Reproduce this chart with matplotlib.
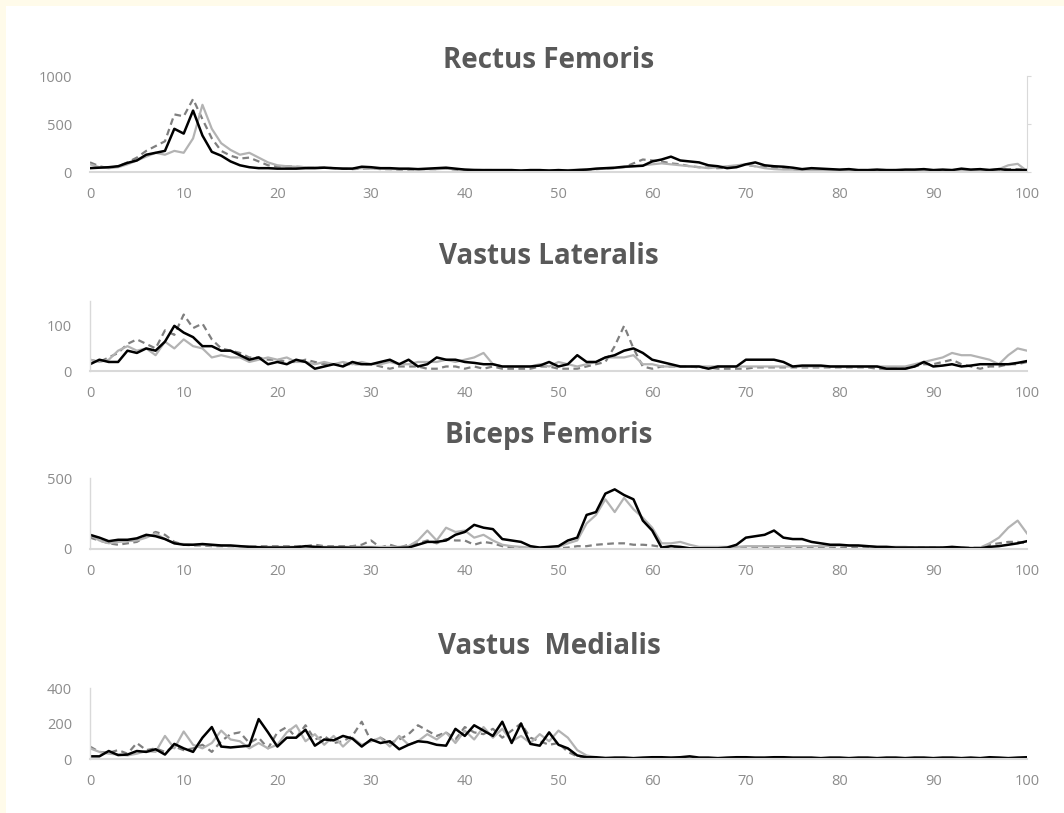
import numpy as np
import matplotlib
matplotlib.use("Agg")
import matplotlib.pyplot as plt
from matplotlib.patches import Rectangle

plt.rcParams['font.family'] = ['Open Sans', 'DejaVu Sans']

# percent of cycle
x = np.arange(0, 101)

# ---- Rectus Femoris ----
rf_black = [40, 45, 50, 60, 95, 120, 180, 200, 220, 450, 400, 640, 380, 210, 170, 110, 70, 50, 40, 40,
            35, 35, 35, 40, 40, 45, 40, 35, 35, 55, 50, 40, 40, 35, 35, 30, 35, 40, 45, 35,
            25, 20, 20, 20, 20, 20, 15, 20, 20, 15, 20, 15, 20, 25, 35, 40, 45, 55, 60, 65,
            110, 130, 160, 120, 110, 100, 70, 60, 40, 50, 80, 100, 70, 60, 55, 45, 30, 40, 35, 30,
            25, 30, 20, 20, 25, 20, 20, 25, 25, 30, 20, 25, 20, 35, 25, 30, 20, 30, 20, 20, 20]
rf_dash = [100, 60, 40, 60, 100, 150, 220, 270, 320, 600, 580, 760, 550, 350, 220, 170, 140, 150, 110, 70,
           60, 60, 55, 50, 50, 45, 40, 35, 30, 35, 40, 30, 30, 25, 25, 30, 30, 30, 35, 25,
           20, 20, 20, 20, 15, 15, 15, 15, 15, 15, 15, 15, 20, 25, 30, 35, 40, 50, 90, 130,
           120, 110, 90, 80, 60, 50, 45, 40, 45, 70, 75, 60, 50, 40, 35, 30, 25, 25, 20, 20,
           20, 20, 20, 20, 20, 20, 20, 20, 20, 20, 20, 20, 20, 20, 20, 20, 20, 25, 30, 30, 25]
rf_light = [80, 50, 40, 50, 80, 120, 160, 200, 180, 220, 200, 350, 700, 450, 300, 230, 180, 200, 150, 100,
            70, 60, 55, 50, 50, 45, 40, 40, 35, 40, 35, 35, 30, 30, 30, 30, 30, 30, 35, 30,
            25, 25, 20, 20, 20, 20, 20, 20, 20, 20, 20, 20, 25, 30, 30, 35, 40, 50, 60, 70,
            80, 90, 80, 70, 60, 50, 40, 50, 60, 70, 80, 60, 40, 30, 25, 25, 20, 20, 20, 20,
            20, 20, 20, 20, 20, 20, 20, 20, 20, 20, 20, 20, 20, 20, 20, 20, 25, 30, 70, 85, 10]

# ---- Vastus Lateralis ----
vl_black = [15, 25, 20, 20, 45, 40, 50, 45, 65, 100, 85, 75, 55, 55, 45, 45, 35, 25, 30, 15,
            20, 15, 25, 20, 5, 10, 15, 10, 20, 15, 15, 20, 25, 15, 25, 10, 15, 30, 25, 25,
            20, 18, 15, 15, 10, 10, 10, 10, 12, 20, 10, 15, 35, 20, 20, 30, 35, 45, 50, 40,
            25, 20, 15, 10, 10, 10, 5, 10, 10, 10, 25, 25, 25, 25, 20, 10, 12, 12, 12, 10,
            10, 10, 10, 10, 10, 5, 5, 5, 10, 20, 10, 12, 15, 10, 12, 15, 15, 15, 15, 18, 22]
vl_dash = [25, 20, 30, 40, 60, 70, 60, 50, 90, 80, 125, 95, 105, 70, 50, 45, 40, 30, 30, 25,
           25, 20, 20, 25, 20, 15, 15, 15, 15, 15, 15, 10, 5, 10, 10, 10, 5, 5, 10, 10,
           5, 10, 5, 10, 5, 5, 5, 5, 10, 10, 5, 5, 5, 10, 15, 20, 55, 100, 50, 10,
           5, 10, 10, 10, 10, 8, 8, 5, 5, 5, 5, 8, 8, 8, 8, 8, 8, 8, 8, 8,
           8, 8, 8, 8, 5, 5, 5, 5, 10, 15, 15, 20, 25, 15, 10, 5, 10, 10, 15, 15, 20]
vl_light = [25, 20, 25, 45, 55, 45, 50, 35, 65, 50, 70, 55, 50, 30, 35, 30, 30, 20, 25, 30,
            25, 30, 20, 20, 15, 20, 15, 20, 15, 20, 15, 15, 20, 15, 15, 20, 20, 20, 25, 20,
            25, 30, 40, 15, 10, 10, 10, 10, 15, 10, 20, 15, 10, 15, 20, 30, 30, 30, 35, 15,
            15, 10, 10, 10, 10, 10, 10, 10, 10, 10, 10, 10, 10, 10, 10, 10, 10, 10, 10, 10,
            10, 10, 10, 10, 10, 10, 10, 10, 15, 20, 25, 30, 40, 35, 35, 30, 25, 15, 35, 50, 45]

# ---- Biceps Femoris ----
bf_black = [100, 80, 55, 65, 65, 75, 100, 90, 70, 40, 30, 30, 35, 30, 25, 25, 20, 15, 12, 10,
            10, 10, 12, 20, 15, 10, 10, 10, 8, 8, 8, 5, 5, 8, 10, 30, 50, 50, 60, 100,
            120, 170, 150, 140, 70, 60, 50, 20, 10, 15, 20, 60, 80, 240, 260, 390, 420, 380, 350, 200,
            130, 10, 20, 15, 5, 5, 5, 5, 10, 30, 80, 90, 100, 130, 80, 70, 70, 50, 40, 30,
            30, 25, 25, 20, 15, 15, 10, 10, 10, 10, 10, 10, 15, 10, 5, 5, 15, 20, 30, 40, 55]
bf_dash = [80, 60, 40, 30, 40, 50, 90, 120, 100, 50, 30, 25, 25, 20, 20, 20, 20, 20, 20, 20,
           20, 20, 20, 20, 30, 20, 20, 20, 20, 30, 60, 10, 30, 10, 30, 40, 60, 40, 70, 60,
           60, 30, 50, 40, 20, 10, 10, 10, 10, 5, 5, 10, 20, 20, 30, 35, 40, 40, 30, 30,
           25, 15, 10, 5, 5, 5, 5, 5, 5, 5, 5, 5, 8, 8, 8, 10, 10, 10, 10, 10,
           10, 10, 10, 10, 10, 10, 10, 10, 10, 10, 10, 10, 10, 10, 10, 10, 30, 40, 50, 50, 40]
bf_light = [100, 60, 40, 50, 55, 60, 80, 110, 70, 40, 35, 30, 30, 25, 25, 20, 20, 20, 15, 15,
            15, 15, 15, 15, 15, 15, 15, 15, 15, 15, 15, 15, 15, 15, 20, 60, 130, 60, 150, 120,
            130, 80, 100, 60, 30, 20, 15, 10, 10, 10, 15, 40, 60, 180, 240, 350, 260, 360, 280, 220,
            150, 40, 40, 50, 30, 15, 15, 15, 15, 15, 20, 20, 20, 20, 20, 20, 20, 20, 20, 20,
            25, 25, 20, 20, 15, 15, 15, 15, 10, 10, 10, 10, 10, 10, 10, 10, 40, 80, 150, 200, 110]

# ---- Vastus Medialis ----
vm_black = [15, 15, 45, 22, 25, 45, 40, 55, 25, 85, 60, 40, 120, 180, 70, 65, 70, 75, 225, 150,
            70, 120, 120, 165, 75, 110, 105, 130, 115, 70, 110, 90, 100, 55, 80, 100, 95, 80, 75, 170,
            130, 190, 160, 130, 210, 90, 200, 85, 75, 150, 80, 60, 20, 10, 10, 5, 8, 8, 5, 8,
            10, 10, 8, 10, 15, 8, 8, 5, 8, 10, 10, 8, 8, 10, 10, 8, 8, 8, 5, 8,
            8, 5, 8, 8, 5, 8, 8, 5, 8, 8, 5, 8, 8, 5, 8, 5, 10, 8, 5, 8, 10]
vm_dash = [70, 40, 35, 50, 30, 90, 50, 60, 40, 70, 50, 60, 80, 40, 100, 140, 150, 90, 120, 60,
           150, 180, 120, 190, 110, 130, 90, 100, 130, 210, 100, 120, 90, 110, 140, 190, 160, 130, 150, 110,
           180, 150, 140, 170, 120, 160, 200, 120, 100, 80, 90, 40, 15, 10, 8, 5, 5, 5, 5, 5,
           5, 5, 5, 5, 5, 5, 5, 5, 5, 5, 5, 5, 5, 5, 5, 5, 5, 5, 5, 5,
           5, 5, 5, 5, 5, 5, 5, 5, 5, 5, 5, 5, 5, 5, 5, 5, 5, 5, 5, 5, 5]
vm_light = [60, 40, 30, 25, 20, 30, 45, 40, 130, 60, 155, 80, 60, 90, 160, 110, 100, 60, 90, 60,
            80, 150, 190, 100, 140, 80, 130, 70, 120, 80, 100, 120, 70, 130, 80, 100, 140, 110, 150, 90,
            160, 110, 180, 120, 170, 100, 130, 90, 140, 100, 160, 120, 50, 20, 10, 8, 5, 5, 5, 5,
            5, 5, 5, 5, 5, 5, 5, 5, 5, 5, 5, 5, 5, 5, 5, 5, 5, 5, 5, 5,
            5, 5, 5, 5, 5, 5, 5, 5, 5, 5, 5, 5, 5, 5, 5, 5, 5, 5, 5, 5, 5]

titles = ['Rectus Femoris', 'Vastus Lateralis', 'Biceps Femoris', 'Vastus  Medialis']
ymaxes = [1000, 155, 500, 400]
yticks = [[0, 500, 1000], [0, 100], [0, 500], [0, 200, 400]]
xticks = list(range(0, 101, 10))
series = [(rf_dash, rf_light, rf_black), (vl_dash, vl_light, vl_black),
          (bf_dash, bf_light, bf_black), (vm_dash, vm_light, vm_black)]

W, H = 1064, 813
# axes boxes in pixels: (bottom, top) of plot area
boxes = [(172, 76), (371, 301), (549, 478), (759, 688)]
title_y = [60, 256, 436, 646]
x_left, x_right = 90, 1027

fig = plt.figure(figsize=(W / 100, H / 100), dpi=100, facecolor='#fffbea')
fig.patches.append(Rectangle((6 / W, 0), 1, 1 - 6 / H, transform=fig.transFigure,
                             facecolor='white', edgecolor='none', zorder=-10))

grid_col = '#d9d9d9'
lab_col = '#8c8c8c'

for i in range(4):
    bot, top = boxes[i]
    ax = fig.add_axes([x_left / W, 1 - bot / H, (x_right - x_left) / W, (bot - top) / H])
    ax.set_facecolor('none')
    dash, light, black = series[i]
    ax.plot(x, dash, color='#7f7f7f', lw=1.6, ls=(0, (3, 2)))
    ax.plot(x, light, color='#b3b3b3', lw=1.6)
    ax.plot(x, black, color='black', lw=1.8)

    ax.set_xlim(0, 100)
    ax.set_ylim(0, ymaxes[i])
    ax.set_xticks(xticks)
    ax.set_yticks(yticks[i])
    ax.tick_params(axis='both', length=0, labelsize=10.5, labelcolor=lab_col)
    ax.tick_params(axis='x', pad=11)
    ax.tick_params(axis='y', pad=13)
    for s in ['top', 'right']:
        ax.spines[s].set_visible(False)
    ax.spines['bottom'].set_color(grid_col)
    ax.spines['bottom'].set_linewidth(1.5)
    ax.spines['left'].set_color(grid_col)
    ax.spines['left'].set_linewidth(1.0)
    if i == 0:
        ax.spines['left'].set_visible(False)
        ax2 = ax.twinx()
        ax2.set_ylim(0, ymaxes[i])
        ax2.set_yticks(yticks[i])
        ax2.set_yticklabels([])
        ax2.tick_params(axis='y', length=3, color=grid_col, direction='out')
        for s in ['top', 'left', 'bottom']:
            ax2.spines[s].set_visible(False)
        ax2.spines['right'].set_color(grid_col)

    fig.text(549 / W, 1 - title_y[i] / H, titles[i], ha='center', va='center',
             fontsize=20, fontweight='bold', color='#595959')

fig.savefig('out.png', dpi=100, facecolor=fig.get_facecolor())
